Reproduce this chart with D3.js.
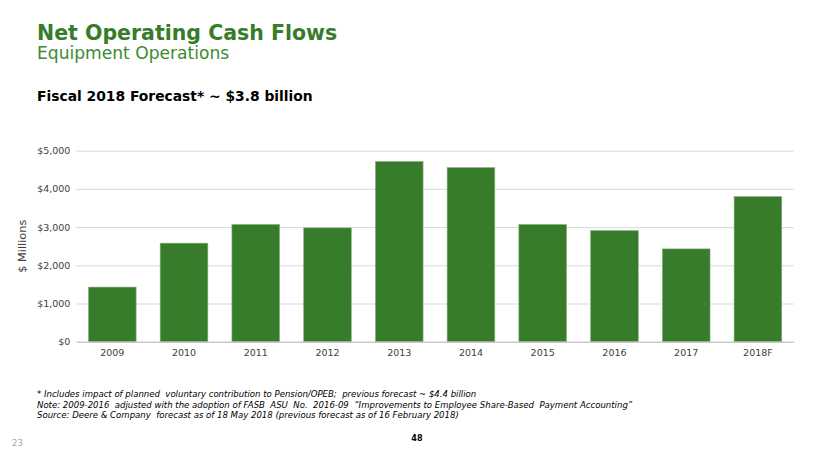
<!DOCTYPE html>
<html>
<head>
<meta charset="utf-8">
<title>Net Operating Cash Flows</title>
<script src="https://cdn.jsdelivr.net/npm/d3@7"></script>
<style>
  body { margin: 0; background: #fff; }
  svg text { font-family: "DejaVu Sans", Verdana, sans-serif; }
  .grid path { display: none; }
  .tick text { fill: #404040; font-size: 9.5px; }
  .note { font-family: "DejaVu Sans Condensed", "DejaVu Sans", sans-serif; font-style: italic; font-size: 9.5px; fill: #000; }
</style>
</head>
<body>
<svg width="830" height="467"></svg>
<script>
var years = ['2009', '2010', '2011', '2012', '2013', '2014', '2015', '2016', '2017', '2018F'];
var cashFlow = [1430, 2580, 3070, 2980, 4720, 4560, 3070, 2910, 2430, 3800];
var yTicks = [0, 1000, 2000, 3000, 4000, 5000];
var notes = [
  '* Includes impact of planned  voluntary contribution to Pension/OPEB;  previous forecast ~ $4.4 billion',
  'Note: 2009-2016  adjusted with the adoption of FASB  ASU  No.  2016-09  \u201cImprovements to Employee Share-Based  Payment Accounting\u201d',
  'Source: Deere & Company  forecast as of 18 May 2018 (previous forecast as of 16 February 2018)'
];

var svg = d3.select('svg');
var green = '#367c2b';

// headings
svg.append('text').attr('x', 37).attr('y', 40)
  .style('font-size', '20.5px').style('font-weight', 'bold').style('fill', green)
  .text('Net Operating Cash Flows');
svg.append('text').attr('x', 37).attr('y', 59)
  .style('font-size', '17.1px').style('fill', '#3d8a32')
  .text('Equipment Operations');
svg.append('text').attr('x', 37).attr('y', 101)
  .style('font-size', '13.85px').style('font-weight', 'bold').style('fill', '#000')
  .text('Fiscal 2018 Forecast*  ~ $3.8 billion');

var plotLeft = 76.4, plotRight = 793.8, plotTop = 150.7, plotBottom = 341.7;

var x = d3.scaleBand().domain(years).range([plotLeft, plotRight])
  .paddingInner(0.335).paddingOuter(0.1675);
var y = d3.scaleLinear().domain([0, 5000]).range([plotBottom, plotTop]);

// gridlines + y labels
var yAxis = svg.append('g').attr('class', 'grid')
  .attr('transform', 'translate(' + plotLeft + ',0)')
  .call(d3.axisLeft(y).tickValues(yTicks)
    .tickSize(-(plotRight - plotLeft)).tickPadding(6)
    .tickFormat(function(d){ return '$' + d3.format(',')(d); }));
yAxis.selectAll('.tick line').attr('stroke', '#d9d9d9');
yAxis.selectAll('.tick text').attr('x', -6);

// bars
svg.selectAll('.bar')
  .data(years)
  .enter().append('rect')
    .attr('class', 'bar')
    .attr('x', function(d){ return x(d); })
    .attr('width', x.bandwidth())
    .attr('y', function(d, i){ return y(cashFlow[i]); })
    .attr('height', function(d, i){ return plotBottom - y(cashFlow[i]); })
    .attr('fill', green)
    .attr('stroke', '#8fb584')
    .attr('stroke-width', 0.6);

// x labels
var xAxis = svg.append('g')
  .attr('transform', 'translate(0,' + plotBottom + ')')
  .call(d3.axisBottom(x).tickSize(0).tickPadding(8));
xAxis.select('.domain').attr('stroke', '#bfbfbf');

// axis title
svg.append('text')
  .attr('transform', 'translate(25.5,' + ((plotTop + plotBottom) / 2) + ') rotate(-90)')
  .attr('text-anchor', 'middle')
  .style('font-size', '11.3px').style('fill', '#404040')
  .text('$ Millions');

// footnotes
svg.selectAll('.note')
  .data(notes)
  .enter().append('text')
    .attr('class', 'note')
    .attr('x', 37)
    .attr('y', function(d, i){ return 397 + i * 10.5; })
    .style('white-space', 'pre')
    .text(function(d){ return d; });

svg.append('text').attr('x', 417).attr('y', 441).attr('text-anchor', 'middle')
  .style('font-family', '"DejaVu Sans Condensed", sans-serif')
  .style('font-size', '9px').style('font-weight', 'bold')
  .text('48');
svg.append('text').attr('x', 12).attr('y', 446)
  .style('font-size', '8.5px').style('fill', '#a6a6a6')
  .text('23');
</script>
</body>
</html>
